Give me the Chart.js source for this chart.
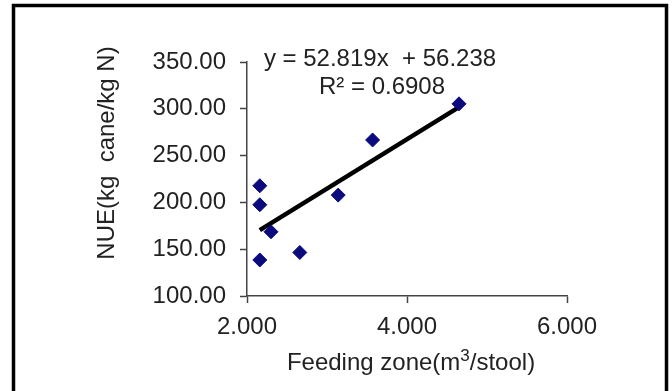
<!DOCTYPE html>
<html>
<head>
<meta charset="utf-8">
<script src="https://cdn.jsdelivr.net/npm/chart.js@4"></script>
<style>
  html, body { margin: 0; padding: 0; background: #fff; }
  #wrap { position: relative; width: 672px; height: 391px; }
</style>
</head>
<body>
<div id="wrap"><canvas id="chart" width="672" height="391"></canvas></div>
<script>
// feeding zone (m3/stool) vs NUE
const feedingZone = [2.16, 2.16, 2.30, 2.16, 2.66, 3.14, 3.57, 4.65];
const nueValues = [217.8, 197.5, 168.6, 138.5, 146.5, 207.8, 266.7, 305.3];

const xTicks = [2, 4, 6];
const yTicks = [100, 150, 200, 250, 300, 350];

// trend line as printed on the chart
const slope = 52.819;
const intercept = 56.238;
const trendX = [Math.min(...feedingZone), Math.max(...feedingZone)];

const font = '"Liberation Sans", Arial, sans-serif';

const frameAndTitles = {
    id: 'frameAndTitles',
    beforeDraw(chart) {
        const ctx = chart.ctx;
        ctx.save();
        ctx.fillStyle = '#fff';
        ctx.fillRect(0, 0, chart.width, chart.height);
        ctx.strokeStyle = '#000';
        ctx.lineWidth = 3.5;
        ctx.strokeRect(13.5, 5.5, 653, 400);
        ctx.restore();
    },
    afterDraw(chart) {
        const ctx = chart.ctx;
        ctx.save();
        ctx.fillStyle = '#222';
        ctx.textBaseline = 'alphabetic';

        // equation
        ctx.font = '24px ' + font;
        ctx.textAlign = 'center';
        ctx.fillText('y = 52.819x  + 56.238', 380, 66);
        ctx.fillText('R\u00b2 = 0.6908', 382, 94);

        // x title with raised 3
        const a = 'Feeding zone(m', b = '3', c = '/stool)';
        ctx.font = '24px ' + font;
        const wa = ctx.measureText(a).width, wc = ctx.measureText(c).width;
        ctx.font = '17px ' + font;
        const wb = ctx.measureText(b).width;
        let x = 411 - (wa + wb + wc) / 2;
        ctx.textAlign = 'left';
        ctx.font = '24px ' + font;
        ctx.fillText(a, x, 370);
        x += wa;
        ctx.font = '17px ' + font;
        ctx.fillText(b, x, 361);
        x += wb;
        ctx.font = '24px ' + font;
        ctx.fillText(c, x, 370);

        // y title
        ctx.translate(114, 153);
        ctx.rotate(-Math.PI / 2);
        ctx.textAlign = 'center';
        ctx.font = '24px ' + font;
        ctx.fillText('NUE(kg  cane/kg N)', 0, 0);
        ctx.restore();
    }
};

new Chart(document.getElementById('chart'), {
    type: 'scatter',
    data: {
        datasets: [
            {
                label: 'Linear',
                type: 'line',
                data: trendX.map(v => ({ x: v, y: slope * v + intercept })),
                borderColor: '#000',
                borderWidth: 4.5,
                pointRadius: 0,
                fill: false,
                order: 2
            },
            {
                label: 'NUE',
                data: feedingZone.map((v, i) => ({ x: v, y: nueValues[i] })),
                pointStyle: 'rectRot',
                pointRadius: 7,
                backgroundColor: '#0b0b7e',
                borderColor: '#0b0b7e',
                borderWidth: 1,
                order: 1
            }
        ]
    },
    options: {
        responsive: false,
        animation: false,
        events: [],
        layout: { padding: { left: 148, right: 105, top: 62, bottom: 35 } },
        plugins: {
            legend: { display: false },
            tooltip: { enabled: false }
        },
        scales: {
            x: {
                type: 'linear',
                min: 2,
                max: 6,
                afterBuildTicks: s => { s.ticks = xTicks.map(v => ({ value: v })); },
                afterFit: s => { s.height = 60; },
                border: { color: '#444', width: 1.5 },
                grid: { drawOnChartArea: false, tickLength: 7, tickColor: '#444', tickWidth: 1.5 },
                ticks: {
                    color: '#222',
                    padding: 10,
                    font: { family: font, size: 24 },
                    callback: v => v.toFixed(3)
                }
            },
            y: {
                type: 'linear',
                min: 100,
                max: 350,
                afterBuildTicks: s => { s.ticks = yTicks.map(v => ({ value: v })); },
                afterFit: s => { s.width = 99; },
                border: { color: '#444', width: 1.5 },
                grid: { drawOnChartArea: false, tickLength: 7, tickColor: '#444', tickWidth: 1.5 },
                ticks: {
                    color: '#222',
                    padding: 14,
                    font: { family: font, size: 24 },
                    callback: v => v.toFixed(2)
                }
            }
        }
    },
    plugins: [frameAndTitles]
});
</script>
</body>
</html>
